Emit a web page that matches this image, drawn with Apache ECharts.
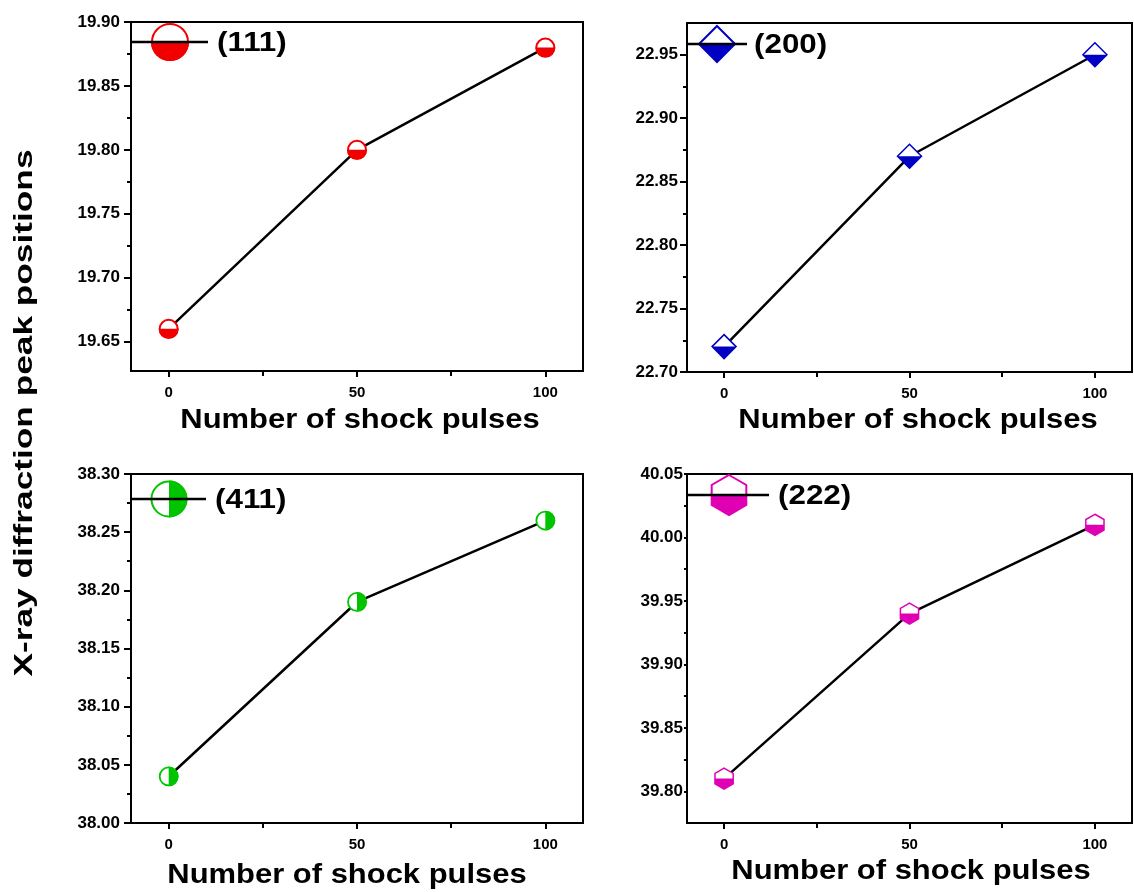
<!DOCTYPE html>
<html>
<head>
<meta charset="utf-8">
<script src="https://cdn.jsdelivr.net/npm/echarts@6/dist/echarts.min.js"></script>
<style>
  html, body { margin: 0; padding: 0; background: #fff; }
  #chart { width: 1134px; height: 892px; }
</style>
</head>
<body>
<div id="chart"></div>
<script>
// Peak positions (2θ, degrees) versus number of shock pulses
const pulses = [0, 50, 100];
const peak111 = [19.66, 19.80, 19.88];
const peak200 = [22.72, 22.87, 22.95];
const peak411 = [38.04, 38.19, 38.26];
const peak222 = [39.81, 39.94, 40.01];

const planeLabels = ['(111)', '(200)', '(411)', '(222)'];
const xTicks = [0, 50, 100];
const xMinorTicks = [25, 75];
const yTicks111 = [19.65, 19.70, 19.75, 19.80, 19.85, 19.90];
const yTicks200 = [22.70, 22.75, 22.80, 22.85, 22.90, 22.95];
const yTicks411 = [38.00, 38.05, 38.10, 38.15, 38.20, 38.25, 38.30];
const yTicks222 = [39.80, 39.85, 39.90, 39.95, 40.00, 40.05];

const xTitle = 'Number of shock pulses';
const yTitle = 'X-ray diffraction peak positions';

const FONT = '"Liberation Sans", Arial, sans-serif';

// minor ticks halfway between the major ones
function minorOf(ticks, min, max) {
  const out = [];
  for (let i = 0; i < ticks.length; i++) {
    const a = +(ticks[i] - 0.025).toFixed(3);
    const b = +(ticks[i] + 0.025).toFixed(3);
    if (a > min && out.indexOf(a) < 0) out.push(a);
    if (b < max && out.indexOf(b) < 0) out.push(b);
  }
  return out;
}

// half-filled marker shapes
function markerEls(kind, cx, cy, s, color, lw) {
  const outline = { fill: '#fff', stroke: color, lineWidth: lw };
  const solid = { fill: color };
  if (kind === 'circleBottom' || kind === 'circleRight') {
    const a0 = kind === 'circleBottom' ? 0 : -Math.PI / 2;
    return [
      { type: 'circle', shape: { cx: cx, cy: cy, r: s }, style: outline },
      { type: 'sector', shape: { cx: cx, cy: cy, r0: 0, r: s + lw / 2, startAngle: a0, endAngle: a0 + Math.PI, clockwise: true }, style: solid }
    ];
  }
  if (kind === 'diamondBottom') {
    return [
      { type: 'polygon', shape: { points: [[cx, cy - s], [cx + s, cy], [cx, cy + s], [cx - s, cy]] }, style: outline },
      { type: 'polygon', shape: { points: [[cx - s, cy], [cx + s, cy], [cx, cy + s]] }, style: solid }
    ];
  }
  // pointy-top hexagon, lower half filled
  const a = s * Math.cos(Math.PI / 6);
  return [
    { type: 'polygon', shape: { points: [[cx, cy - s], [cx + a, cy - s / 2], [cx + a, cy + s / 2], [cx, cy + s], [cx - a, cy + s / 2], [cx - a, cy - s / 2]] }, style: outline },
    { type: 'polygon', shape: { points: [[cx - a, cy], [cx + a, cy], [cx + a, cy + s / 2], [cx, cy + s], [cx - a, cy + s / 2]] }, style: solid }
  ];
}

const panels = [
  { values: peak111, yTicks: yTicks111, yMin: 19.627, yMax: 19.90, color: '#f20000', kind: 'circleBottom', size: 9, lw: 2,
    grid: { left: 131, top: 22, width: 452, height: 349 }, labelMargin: 11, tickLen: 7, minorLen: 4,
    legend: { y: 42, x1: 131, x2: 208, cx: 170, s: 18, tx: 217 }, title: { x: 360, y: 421 } },
  { values: peak200, yTicks: yTicks200, yMin: 22.70, yMax: 22.975, color: '#0000c4', kind: 'diamondBottom', size: 12, lw: 1.5,
    grid: { left: 687, top: 23, width: 445, height: 349 }, labelMargin: 9, tickLen: 7, minorLen: 4,
    legend: { y: 44, x1: 687, x2: 747, cx: 717, s: 18, tx: 754 }, title: { x: 918, y: 421 } },
  { values: peak411, yTicks: yTicks411, yMin: 38.00, yMax: 38.30, color: '#00c400', kind: 'circleRight', size: 9, lw: 1.8,
    grid: { left: 131, top: 474, width: 452, height: 349 }, labelMargin: 11, tickLen: 7, minorLen: 4,
    legend: { y: 499, x1: 131, x2: 206, cx: 169, s: 17.5, tx: 215 }, title: { x: 347, y: 876 } },
  { values: peak222, yTicks: yTicks222, yMin: 39.775, yMax: 40.05, color: '#e000b4', kind: 'hexBottom', size: 10.5, lw: 1.5,
    grid: { left: 687, top: 474, width: 445, height: 349 }, labelMargin: 4, tickLen: 3, minorLen: 3,
    legend: { y: 495, x1: 687, x2: 769, cx: 729, s: 20, tx: 778 }, title: { x: 911, y: 872 } }
];

const grids = [], xAxes = [], yAxes = [], series = [], graphics = [];

panels.forEach(function (p, i) {
  grids.push(Object.assign({ show: true, borderColor: '#000', borderWidth: 2, backgroundColor: 'transparent' }, p.grid));

  const xBase = { type: 'value', gridIndex: i, min: -10, max: 110, position: 'bottom', splitLine: { show: false } };
  xAxes.push(Object.assign({}, xBase, {
    axisLine: { show: true, onZero: false, lineStyle: { color: '#000', width: 2 } },
    axisTick: { show: true, inside: false, length: 6, customValues: xTicks, lineStyle: { color: '#000', width: 2 } },
    axisLabel: { show: true, margin: 14, customValues: xTicks, color: '#000', fontFamily: FONT, fontWeight: 'bold', fontSize: 15 }
  }));
  xAxes.push(Object.assign({}, xBase, {
    axisLine: { show: false, onZero: false },
    axisTick: { show: true, inside: false, length: 5, customValues: xMinorTicks, lineStyle: { color: '#000', width: 2 } },
    axisLabel: { show: false }
  }));

  const yBase = { type: 'value', gridIndex: i, min: p.yMin, max: p.yMax, position: 'left', splitLine: { show: false } };
  yAxes.push(Object.assign({}, yBase, {
    axisLine: { show: true, onZero: false, lineStyle: { color: '#000', width: 2 } },
    axisTick: { show: true, inside: false, length: p.tickLen, customValues: p.yTicks, lineStyle: { color: '#000', width: 2 } },
    axisLabel: { show: true, margin: p.labelMargin, customValues: p.yTicks, color: '#000', fontFamily: FONT, fontWeight: 'bold', fontSize: 17,
      formatter: function (v) { return v.toFixed(2); } }
  }));
  yAxes.push(Object.assign({}, yBase, {
    axisLine: { show: false, onZero: false },
    axisTick: { show: true, inside: false, length: p.minorLen, customValues: minorOf(p.yTicks, p.yMin, p.yMax), lineStyle: { color: '#000', width: 2 } },
    axisLabel: { show: false }
  }));

  const pts = pulses.map(function (x, k) { return [x, p.values[k]]; });

  series.push({
    type: 'line', xAxisIndex: 2 * i, yAxisIndex: 2 * i, data: pts,
    symbol: 'none', lineStyle: { color: '#000', width: 2.5 }, z: 2, animation: false
  });
  series.push({
    type: 'custom', xAxisIndex: 2 * i, yAxisIndex: 2 * i, data: pts, z: 3, animation: false,
    renderItem: function (params, api) {
      const c = api.coord([api.value(0), api.value(1)]);
      return { type: 'group', children: markerEls(p.kind, c[0], c[1], p.size, p.color, p.lw) };
    }
  });

  // legend entry: line, large marker, plane label
  const L = p.legend;
  graphics.push({ type: 'line', shape: { x1: L.x1, y1: L.y, x2: L.x2, y2: L.y }, style: { stroke: '#000', lineWidth: 2.5 }, z: 10 });
  graphics.push({ type: 'group', children: markerEls(p.kind, L.cx, L.y, L.s, p.color, 2), z: 11 });
  graphics.push({
    type: 'text', x: L.tx, y: L.y + 1, scaleX: 1.12, z: 11,
    style: { text: planeLabels[i], font: 'bold 28px ' + FONT, fill: '#000', align: 'left', verticalAlign: 'middle', textAlign: 'left', textVerticalAlign: 'middle' }
  });

  // x-axis title
  graphics.push({
    type: 'text', x: p.title.x, y: p.title.y, scaleX: 1.146, z: 11,
    style: { text: xTitle, font: 'bold 27px ' + FONT, fill: '#000', align: 'center', verticalAlign: 'middle', textAlign: 'center', textVerticalAlign: 'middle' }
  });
});

// shared y-axis title
graphics.push({
  type: 'text', x: 25, y: 413, rotation: Math.PI / 2, scaleX: 1.356, z: 11,
  style: { text: yTitle, font: 'bold 26px ' + FONT, fill: '#000', align: 'center', verticalAlign: 'middle', textAlign: 'center', textVerticalAlign: 'middle' }
});

const chart = echarts.init(document.getElementById('chart'), null, { renderer: 'canvas' });
chart.setOption({
  backgroundColor: '#fff',
  animation: false,
  grid: grids,
  xAxis: xAxes,
  yAxis: yAxes,
  series: series,
  graphic: graphics
});
</script>
</body>
</html>
